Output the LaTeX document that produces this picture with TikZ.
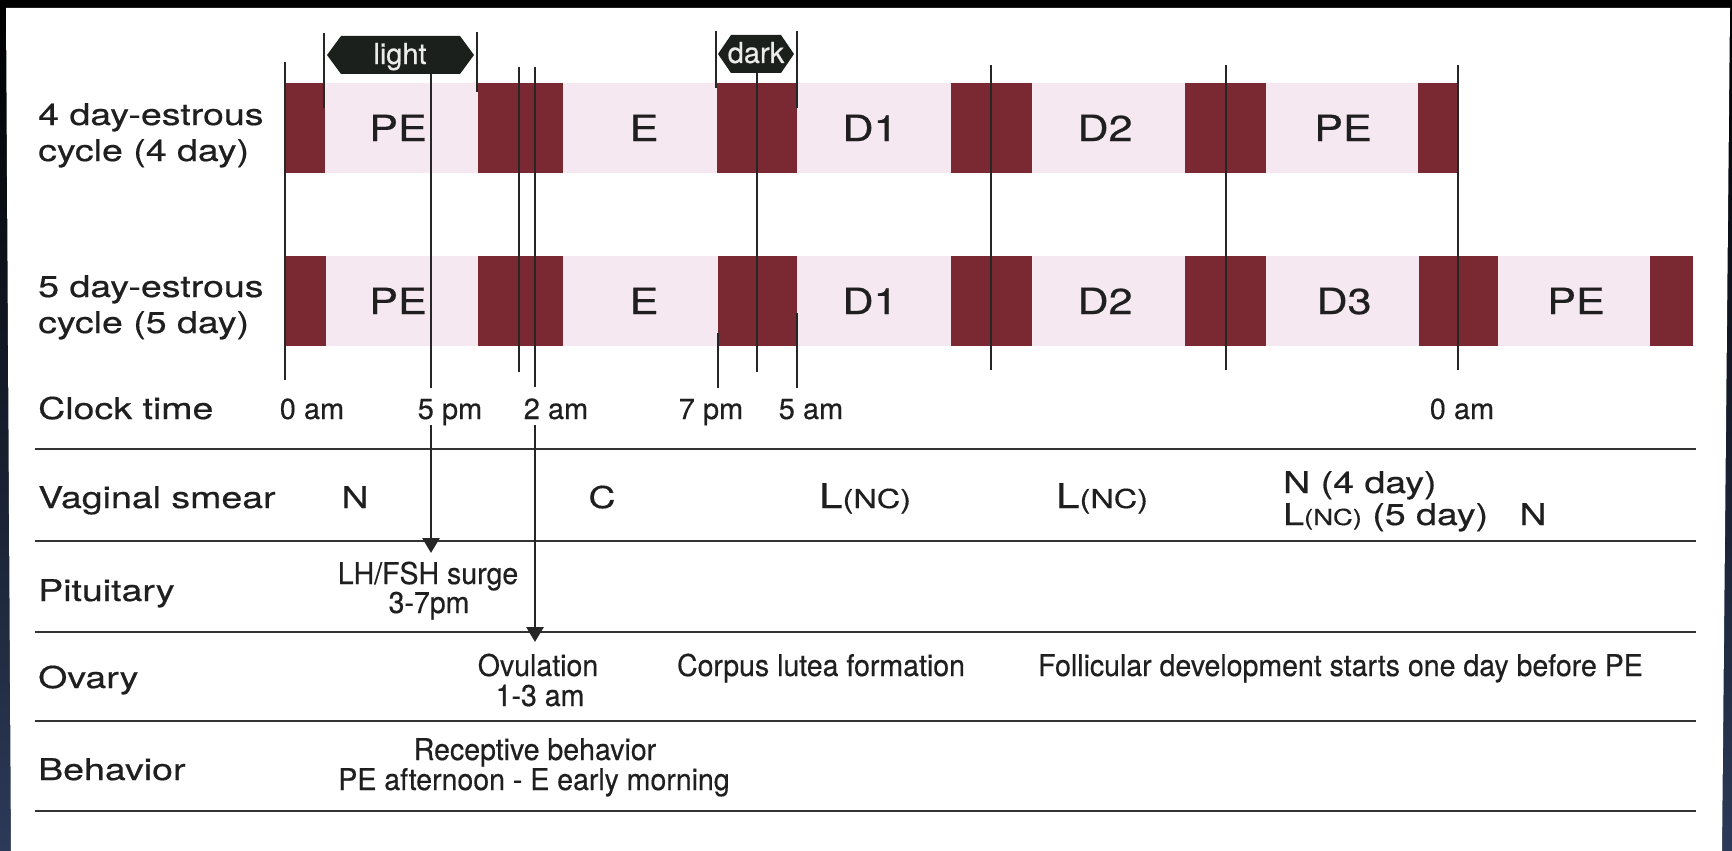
\documentclass[tikz,border=0pt]{standalone}
\usepackage{fontspec}
\setmainfont{TeX Gyre Heros}[FakeBold=0.4]
\newfontfamily\widefont[FakeStretch=1.25,FakeBold=0.5]{TeX Gyre Heros}
\newfontfamily\stagefont[FakeStretch=1.2,FakeBold=0.5]{TeX Gyre Heros}
\newfontfamily\narrowfont[FakeStretch=0.95,FakeBold=0.4]{TeX Gyre Heros}
\usetikzlibrary{arrows.meta}
\definecolor{lutealred}{RGB}{122,40,50}
\definecolor{bandpink}{RGB}{245,232,240}
\definecolor{tagblack}{RGB}{28,32,28}
\definecolor{frameblue}{RGB}{44,58,88}

\begin{document}
\begin{tikzpicture}[x=1pt,y=-1pt,
  row label/.style={anchor=base west,inner sep=0pt,text=black!88,font=\widefont\fontsize{30}{36}\selectfont},
  phase label/.style={anchor=base,inner sep=0pt,text=black!88,font=\stagefont\fontsize{36}{40}\selectfont},
  smear label/.style={anchor=base,inner sep=0pt,text=black!88,font=\widefont\fontsize{30}{36}\selectfont},
  clock label/.style={anchor=base,inner sep=0pt,text=black!88,font=\fontsize{29}{32}\selectfont},
  note text/.style={anchor=base,inner sep=0pt,text=black!88,font=\narrowfont\fontsize{30}{32}\selectfont},
  tag text/.style={anchor=base,inner sep=0pt,text=black!8,font=\fontsize{29}{32}\selectfont},
  tick line/.style={line width=2.8pt,black!85},
  row rule/.style={line width=2.8pt,black!80},
  surge arrow/.style={-{Triangle[width=17pt,length=15pt]},line width=2.8pt,black!85}]
\useasboundingbox (0,0) rectangle (1732,851);

% frame
\shade[top color=black,bottom color=frameblue] (0,0) rectangle (1732,851);
\fill[white] (6,8) -- (1730,8) -- (1722,851) -- (11,851) -- cycle;

% light/dark bands
\fill[bandpink] (285,83) rectangle (1458,173);
\fill[bandpink] (285,256) rectangle (1693,346);
\foreach \a/\b in {285/325,478/563,717/797,951/1032,1185/1266,1418/1458}
  \fill[lutealred] (\a,83) rectangle (\b,173);
\foreach \a/\b in {285/326,478/563,718/797,951/1032,1185/1266,1419/1498,1650/1693}
  \fill[lutealred] (\a,256) rectangle (\b,346);

% time marks
\foreach \x/\ya/\yb in {285/62/380,431/74/388,519/67/372,535/67/387,757/73/372,
    718/333/388,797/313/388,991/65/370,1226/65/370,1458/65/370}
  \draw[tick line] (\x,\ya) -- (\x,\yb);
\foreach \x/\ya/\yb in {324/33/108,477/32/92,716/31/88,797/31/108}
  \draw[tick line] (\x,\ya) -- (\x,\yb);

% light / dark tags
\fill[tagblack] (327,55) -- (341,36) -- (460,36) -- (474,55) -- (460,74) -- (341,74) -- cycle;
\fill[tagblack] (718,54) -- (731,35) -- (781,35) -- (794,54) -- (781,73) -- (731,73) -- cycle;
\node[tag text] (light) at (400,64) {light};
\node[tag text] (dark) at (756,63) {dark};

% row labels
\node[row label] (cyc4a) at (38,125) {4 day-estrous};
\node[row label] (cyc4b) at (38,161) {cycle (4 day)};
\node[row label] (cyc5a) at (38,297) {5 day-estrous};
\node[row label] (cyc5b) at (38,333) {cycle (5 day)};
\node[row label] (clock) at (38,419) {Clock time};
\node[row label] (smear) at (38,508) {Vaginal smear};
\node[row label] (pit) at (38,601) {Pituitary};
\node[row label] (ovary) at (38,688) {Ovary};
\node[row label] (behav) at (38,780) {Behavior};

% stages
\node[phase label] (pe4) at (398,141) {PE};
\node[phase label] (e4) at (644,141) {E};
\node[phase label] (da4) at (870,141) {D1};
\node[phase label] (db4) at (1105,141) {D2};
\node[phase label] (pf4) at (1343,141) {PE};
\node[phase label] (pe5) at (398,314) {PE};
\node[phase label] (e5) at (644,314) {E};
\node[phase label] (da5) at (870,314) {D1};
\node[phase label] (db5) at (1105,314) {D2};
\node[phase label] (dc5) at (1344,314) {D3};
\node[phase label] (pf5) at (1576,314) {PE};

% clock times
\node[clock label] (t0) at (312,419) {0 am};
\node[clock label] (t5pm) at (450,419) {5 pm};
\node[clock label] (t2am) at (556,419) {2 am};
\node[clock label] (t7pm) at (711,419) {7 pm};
\node[clock label] (t5am) at (811,419) {5 am};
\node[clock label] (t0b) at (1462,419) {0 am};

% table rules
\foreach \y in {449,541,632,721,811}
  \draw[row rule] (35,\y) -- (1696,\y);

% vaginal smear
\node[smear label] (sN) at (355,508) {N};
\node[smear label] (sC) at (602,508) {C};
\node[smear label,font=\widefont\fontsize{34}{36}\selectfont] (sL1) at (865,508) {L{\fontsize{26}{26}\selectfont(NC)}};
\node[smear label,font=\widefont\fontsize{34}{36}\selectfont] (sL2) at (1102,508) {L{\fontsize{26}{26}\selectfont(NC)}};
\node[smear label,anchor=base west] (sN4) at (1283,493) {N (4 day)};
\node[smear label,anchor=base west] (sL5) at (1283,525) {L{\fontsize{22}{22}\selectfont(NC)} (5 day)};
\node[smear label] (sNb) at (1533,525) {N};

% pituitary, ovary, behavior
\node[note text] (lh) at (428,584) {LH/FSH surge};
\node[note text] (lhtime) at (429,613) {3-7pm};
\node[note text] (ovu) at (538,676) {Ovulation};
\node[note text] (ovutime) at (540,706) {1-3 am};
\node[note text] (cl) at (821,676) {Corpus lutea formation};
\node[note text,anchor=base west] (foll) at (1038,676) {Follicular development starts one day before PE};
\node[note text] (recep) at (535,760) {Receptive behavior};
\node[note text] (recept) at (534,790) {PE afternoon - E early morning};

% arrows
\coordinate (surgeFrom) at (431,425);
\coordinate (surgeTo) at (431,553);
\coordinate (ovuFrom) at (535,425);
\coordinate (ovuTo) at (535,642);
\draw[surge arrow] (surgeFrom) -- (surgeTo);
\draw[surge arrow] (ovuFrom) -- (ovuTo);
\end{tikzpicture}
\end{document}
